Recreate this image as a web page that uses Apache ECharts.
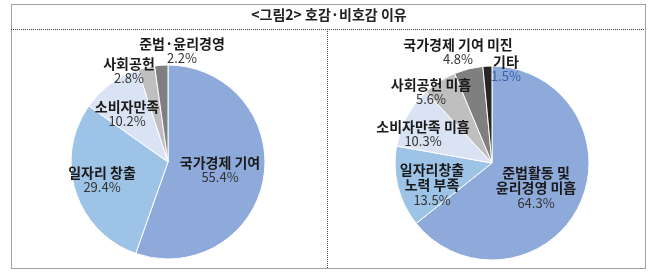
<!DOCTYPE html>
<html>
<head>
<meta charset="utf-8">
<script src="https://cdn.jsdelivr.net/npm/echarts@6/dist/echarts.min.js"></script>
<style>
html, body { margin: 0; padding: 0; background: #fff; }
#chart { width: 658px; height: 272px; }
</style>
</head>
<body>
<div id="chart"></div>
<script>
var title = '<그림2> 호감·비호감 이유';

// 호감 이유
var likeNames = ['국가경제 기여', '일자리 창출', '소비자만족', '사회공헌', '준법·윤리경영'];
var likeValues = [55.4, 29.4, 10.2, 2.8, 2.2];

// 비호감 이유
var dislikeNames = ['준법활동 및\n윤리경영 미흡', '일자리창출\n노력 부족', '소비자만족 미흡', '사회공헌 미흡', '국가경제 기여 미진', '기타'];
var dislikeValues = [64.3, 13.5, 10.3, 5.6, 4.8, 1.5];

var likeColors = ['#8eaadb', '#9dc3e6', '#dae3f3', '#bfbfbf', '#7f7f7f'];
var dislikeColors = ['#8eaadb', '#9dc3e6', '#dae3f3', '#bfbfbf', '#7f7f7f', '#262626'];

// label centres (px)
var likeLabelPos = [[220, 170], [102, 180], [127, 114], [129, 71], [182, 51]];
var dislikeLabelPos = [[536, 188], [432, 185], [423, 134], [431, 92], [458, 52], [506, 69]];

var chart = echarts.init(document.getElementById('chart'));

function buildData(names, values, colors) {
	return names.map(function (n, i) {
		return { name: n, value: values[i], itemStyle: { color: colors[i] } };
	});
}

function fmt(p) {
	var lines = p.name.split('\n').map(function (l) { return '{n|' + l + '}'; });
	var v = p.name === '기타' ? '{vb|' + p.value + '%}' : '{v|' + p.value + '%}';
	return lines.join('\n') + '\n' + v;
}

var labelStyle = {
	show: true,
	position: 'outside',
	formatter: fmt,
	rich: {
		n: { fontFamily: 'Noto Sans CJK KR', fontSize: 14, fontWeight: 'bold', color: '#1a1a1a', lineHeight: 15 },
		v: { fontFamily: 'Noto Sans CJK KR', fontSize: 13, color: '#333', lineHeight: 15 },
		vb: { fontFamily: 'Noto Sans CJK KR', fontSize: 13, color: '#3a5fa8', lineHeight: 15 }
	}
};

function layoutFrom(pos) {
	return function (params) {
		var p = pos[params.dataIndex];
		return { x: p[0], y: p[1], align: 'center', verticalAlign: 'middle' };
	};
}

var dot = { stroke: '#444', lineWidth: 1, lineDash: [1, 1] };

var option = {
	animation: false,
	graphic: [
		{ type: 'rect', shape: { x: 11.5, y: 4.5, width: 634, height: 264 }, style: { fill: 'none', stroke: '#444', lineWidth: 1, lineDash: [1, 1] } },
		{ type: 'line', shape: { x1: 11, y1: 29.5, x2: 645, y2: 29.5 }, style: dot },
		{ type: 'line', shape: { x1: 327.5, y1: 29, x2: 327.5, y2: 268 }, style: dot },
		{ type: 'text', left: 'center', top: 8, style: { text: title, font: '600 14px "Noto Sans CJK KR"', fill: '#222' } }
	],
	series: [
		{
			type: 'pie',
			center: [168, 162],
			radius: 97,
			startAngle: 90,
			avoidLabelOverlap: false,
			itemStyle: { borderColor: '#fff', borderWidth: 1 },
			label: labelStyle,
			labelLine: { show: false },
			labelLayout: layoutFrom(likeLabelPos),
			data: buildData(likeNames, likeValues, likeColors)
		},
		{
			type: 'pie',
			center: [492, 163],
			radius: 97,
			startAngle: 90,
			avoidLabelOverlap: false,
			itemStyle: { borderColor: '#fff', borderWidth: 1 },
			label: labelStyle,
			labelLine: { show: false },
			labelLayout: layoutFrom(dislikeLabelPos),
			data: buildData(dislikeNames, dislikeValues, dislikeColors)
		}
	]
};
chart.setOption(option);
</script>
</body>
</html>
